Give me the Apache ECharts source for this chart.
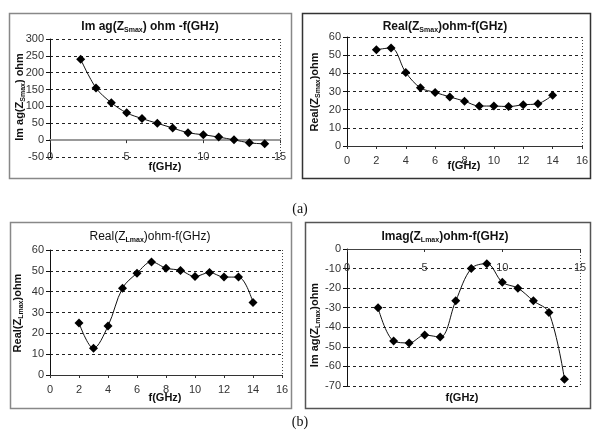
<!DOCTYPE html>
<html><head><meta charset="utf-8">
<script src="https://cdn.jsdelivr.net/npm/echarts@6/dist/echarts.min.js"></script>
<style>html,body{margin:0;padding:0;background:#fff}#c{width:594px;height:436px}</style>
</head><body><div id="c"></div>
<script>
// ---- data ----
const freq = [2,3,4,5,6,7,8,9,10,11,12,13,14];
const imagZS = [240,155,111,81,64,50,36,22,16,9,1,-8,-11];
const realZS = [53,54,40.5,32,29.5,27,24.7,22,22,21.7,22.7,23.3,28];
const realZL = [25,12.8,23.5,41.7,48.9,54.3,51.3,50.2,47.3,49.2,47,47,34.8];
const imagZL = [-30,-47,-48,-44,-45,-26.5,-10,-7.5,-17,-20,-26.5,-32.5,-66.5];
const titles = ['Im ag(Z{s|Smax}) ohm -f(GHz)','Real(Z{s|Smax})ohm-f(GHz)','Real(Z{s|Lmax})ohm-f(GHz)','Imag(Z{s|Lmax})ohm-f(GHz)'];
const yNames = ['Im ag(Z{s|Smax}) ohm','Real(Z{s|Smax})ohm','Real(Z{s|Lmax})ohm','Im ag(Z{s|Lmax})ohm'];
const xName = 'f(GHz)';

const FONT = '"Liberation Sans", Arial, sans-serif';
const grids = [
  {left:50, top:39, width:230, height:118},
  {left:347, top:37, width:235, height:109},
  {left:50, top:250, width:232, height:125},
  {left:347, top:249, width:233, height:137}
];
const xCfg = [
  {min:0,max:15,interval:5, margin:-6, lineColor:'#999', lineWidth:2, onZero:true, position:'bottom', inside:false},
  {min:0,max:16,interval:2, margin:9, lineColor:'#333', lineWidth:1, onZero:false, position:'bottom', inside:false},
  {min:0,max:16,interval:2, margin:9, lineColor:'#333', lineWidth:1, onZero:false, position:'bottom', inside:false},
  {min:0,max:15,interval:5, margin:13, lineColor:'#444', lineWidth:1, onZero:false, position:'top', inside:true}
];
const yCfg = [
  {min:-50,max:300,interval:50},
  {min:0,max:60,interval:10},
  {min:0,max:60,interval:10},
  {min:-70,max:0,interval:10}
];
const seriesData = [imagZS, realZS, realZL, imagZL];

const richSub = {s:{fontSize:7, fontWeight:'bold', fontFamily:FONT, verticalAlign:'bottom', padding:[6,0,0,0]}};

const xAxes = xCfg.map((c,i)=>({
  type:'value', gridIndex:i, min:c.min, max:c.max, interval:c.interval, position:c.position,
  axisLine:{show:true, onZero:c.onZero, lineStyle:{color:c.lineColor, width:c.lineWidth}},
  axisTick:{show:true, inside:c.inside, length:3, lineStyle:{color:'#333'}},
  axisLabel:{margin:c.margin, inside:c.inside, fontSize:11, color:'#333', fontFamily:FONT},
  splitLine:{show:false}
}));
const yAxes = yCfg.map((c,i)=>({
  type:'value', gridIndex:i, min:c.min, max:c.max, interval:c.interval,
  axisLine:{show:true, onZero:false, lineStyle:{color:'#111', width:1}},
  axisTick:{show:true, length:4, lineStyle:{color:'#111'}},
  axisLabel:{margin:6, fontSize:11, color:'#333', fontFamily:FONT},
  splitLine:{show:true, lineStyle:{color:'#222', type:[3,3], width:1}}
}));
const series = seriesData.map((d,i)=>({
  type:'line', xAxisIndex:i, yAxisIndex:i,
  data: freq.map((f,k)=>[f,d[k]]),
  smooth:0.35, symbol:'diamond', symbolSize:9,
  lineStyle:{color:'#111', width:1}, itemStyle:{color:'#000'}
}));

const graphic = [];
const frames = [[9,13,282,165,'#888'],[302,13,288,165,'#333'],[10,222,281,186,'#888'],[305,222,285,186,'#555']];
frames.forEach(f=>graphic.push({type:'rect', shape:{x:f[0]+0.5,y:f[1]+0.5,width:f[2],height:f[3]}, style:{fill:null, stroke:f[4], lineWidth:1.5}, z:0}));
grids.forEach(g=>graphic.push({type:'line', shape:{x1:g.left+g.width+0.5,y1:g.top,x2:g.left+g.width+0.5,y2:g.top+g.height}, style:{stroke:'#444', lineDash:[1,2], lineWidth:1}}));
const titlePos = [[150,27,'bold'],[445,27,'bold'],[150,237,'normal'],[445,237,'bold']];
titlePos.forEach((p,i)=>graphic.push({type:'text', x:p[0], y:p[1], style:{text:titles[i], font:p[2]+' 12px '+FONT, fill:'#111', textAlign:'center', textVerticalAlign:'middle', align:'center', verticalAlign:'middle', rich:richSub}}));
const yNamePos = [[20,97],[315,92],[18,313],[315,325]];
yNamePos.forEach((p,i)=>graphic.push({type:'text', x:p[0], y:p[1], rotation:Math.PI/2, style:{text:yNames[i], font:'bold 11px '+FONT, fill:'#111', textAlign:'center', textVerticalAlign:'middle', align:'center', verticalAlign:'middle', rich:richSub}}));
const xNamePos = [[165,167],[464,166],[165,398],[462,398]];
xNamePos.forEach(p=>graphic.push({type:'text', x:p[0], y:p[1], style:{text:xName, font:'bold 11px '+FONT, fill:'#111', textAlign:'center', textVerticalAlign:'middle', align:'center', verticalAlign:'middle'}}));
[['(a)',300,209],['(b)',300,422]].forEach(p=>graphic.push({type:'text', x:p[1], y:p[2], style:{text:p[0], font:'14px "Liberation Serif", "Times New Roman", serif', fill:'#111', textAlign:'center', textVerticalAlign:'middle', align:'center', verticalAlign:'middle'}}));

const chart = echarts.init(document.getElementById('c'), null, {renderer:'canvas'});
chart.setOption({
  animation:false,
  backgroundColor:'#fff',
  grid: grids.map(g=>Object.assign({containLabel:false}, g)),
  xAxis: xAxes, yAxis: yAxes, series, graphic
});
</script></body></html>
